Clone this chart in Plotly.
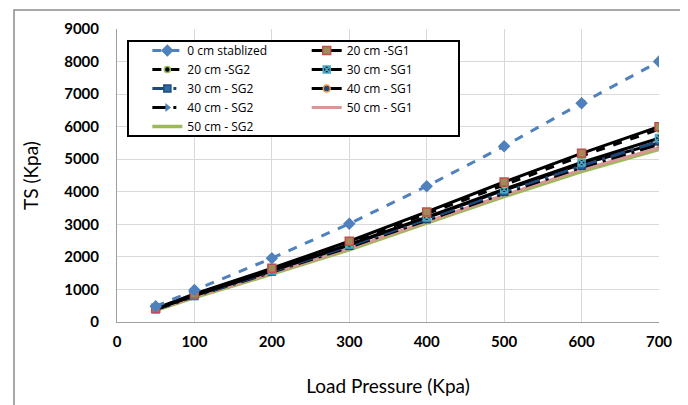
import plotly.graph_objects as go

load_pressure = [50, 100, 200, 300, 400, 500, 600, 700]

s0_stab = [480, 980, 1960, 3020, 4170, 5400, 6720, 8000]
s20_sg1 = [420, 860, 1650, 2480, 3380, 4300, 5180, 6000]
s20_sg2 = [410, 840, 1620, 2440, 3320, 4220, 5100, 5920]
s30_sg1 = [400, 820, 1580, 2380, 3220, 4080, 4900, 5650]
s30_sg2 = [390, 800, 1550, 2340, 3160, 4000, 4800, 5550]
s40_sg1 = [395, 810, 1570, 2360, 3200, 4050, 4850, 5500]
s40_sg2 = [380, 790, 1530, 2300, 3120, 3950, 4750, 5450]
s50_sg1 = [370, 770, 1500, 2260, 3080, 3900, 4680, 5350]
s50_sg2 = [360, 750, 1470, 2220, 3040, 3850, 4620, 5300]

x_ticks = [0, 100, 200, 300, 400, 500, 600, 700]
y_ticks = [0, 1000, 2000, 3000, 4000, 5000, 6000, 7000, 8000, 9000]

FONT = "Lato"

fig = go.Figure()

def add(name, y, color, dash, width, symbol=None, mcolor=None, mline=None, msize=7, legend="legend"):
    mode = "lines+markers" if symbol else "lines"
    marker = None
    if symbol:
        marker = dict(symbol=symbol, size=msize, color=mcolor,
                      line=dict(color=mline or mcolor, width=1.5))
    fig.add_trace(go.Scatter(x=load_pressure, y=y, name=name, mode=mode,
                             line=dict(color=color, dash=dash, width=width),
                             marker=marker, legend=legend))

# draw order: bottom lines first
add("50 cm - SG2", s50_sg2, "#9bbb59", "solid", 3.5, legend="legend")
add("50 cm - SG1", s50_sg1, "#d99694", "solid", 3, legend="legend2")
add("40 cm - SG2", s40_sg2, "#000000", "longdashdot", 3, "triangle-right", "#4f81bd", "#4f81bd", 5, legend="legend")
add("40 cm - SG1", s40_sg1, "#000000", "solid", 3, "circle", "#1f497d", "#f79646", 7, legend="legend2")
add("30 cm - SG2", s30_sg2, "#1f497d", "longdashdot", 3, "square", "#2e6da4", "#1f497d", 7, legend="legend")
add("30 cm - SG1", s30_sg1, "#000000", "solid", 3, "square-x", "#1f1f3f", "#4bacc6", 7, legend="legend2")
add("20 cm -SG2", s20_sg2, "#000000", "dash", 3, "circle", "#000000", "#9bbb59", 6, legend="legend")
add("20 cm -SG1", s20_sg1, "#000000", "solid", 3, "square", "#a08c5a", "#c0504d", 8, legend="legend2")
add("0 cm stablized", s0_stab, "#4f81bd", "dash", 3, "diamond", "#4f81bd", "#4f81bd", 8, legend="legend")

legend_common = dict(
    bgcolor="rgba(0,0,0,0)", borderwidth=0,
    font=dict(family="Open Sans", size=12, color="#000000"),
    orientation="v", xanchor="left", yanchor="top",
    tracegroupgap=0, itemsizing="trace", traceorder="reversed",
)

fig.update_layout(
    width=688, height=405,
    margin=dict(l=109, r=37, t=21, b=91),
    paper_bgcolor="white", plot_bgcolor="white",
    font=dict(family=FONT, color="#000000"),
    showlegend=True,
    legend=dict(x=0.056, y=0.976, **legend_common),
    legend2=dict(x=0.350, y=0.976, **legend_common),
    xaxis=dict(
        range=[0, 700], tickvals=x_ticks, ticktext=[str(v) for v in x_ticks],
        showgrid=True, gridcolor="#d9d9d9", gridwidth=1,
        showline=True, linecolor="#a0a0a0", linewidth=1, mirror=False,
        ticks="", ticklabelstandoff=6, zeroline=False,
        tickfont=dict(family=FONT, size=15, color="#000000", weight="bold"),
        title=dict(text="Load Pressure (Kpa)", font=dict(family=FONT, size=19, color="#000000"), standoff=30),
    ),
    yaxis=dict(
        range=[0, 9000], tickvals=y_ticks, ticktext=[str(v) for v in y_ticks],
        showgrid=True, gridcolor="#d9d9d9", gridwidth=1,
        showline=True, linecolor="#a0a0a0", linewidth=1,
        ticks="", ticklabelstandoff=14, zeroline=False,
        tickfont=dict(family=FONT, size=15, color="#000000", weight="bold"),
        title=dict(text="TS (Kpa)", font=dict(family=FONT, size=19, color="#000000"), standoff=20),
    ),
    shapes=[
        dict(type="rect", xref="paper", yref="paper", x0=-0.19, x1=1.0406, y0=-0.31, y1=1.065,
             line=dict(color="#8c8c8c", width=1.5), fillcolor="rgba(0,0,0,0)", layer="below"),
        dict(type="rect", xref="paper", yref="paper", x0=0.0203, x1=0.631, y0=0.635, y1=0.959,
             line=dict(color="#000000", width=2), fillcolor="white", layer="above"),
    ],
)

fig.write_html("out.html")
